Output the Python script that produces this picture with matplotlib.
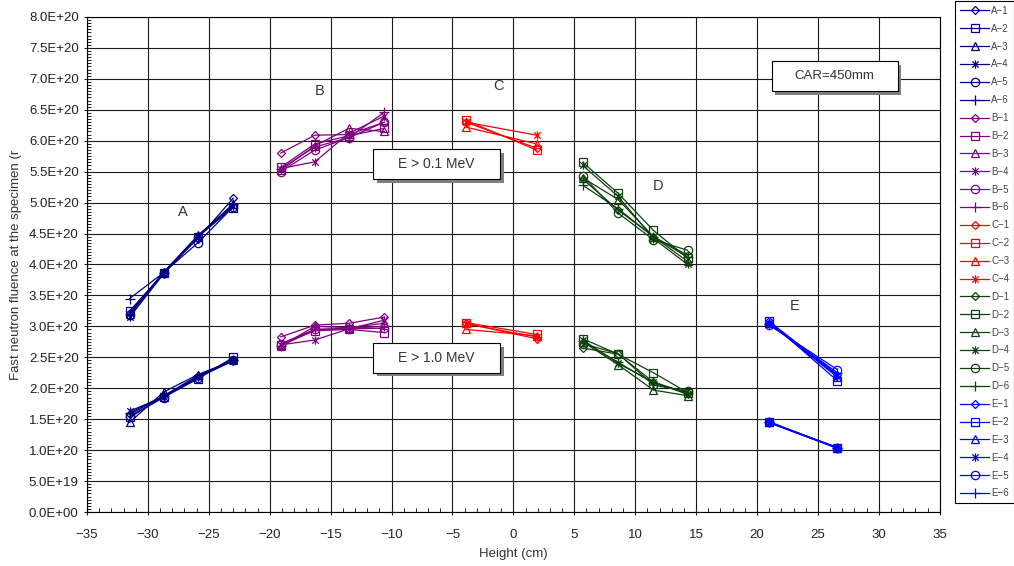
import numpy as np
import matplotlib.pyplot as plt
from matplotlib.path import Path
from matplotlib.patches import Rectangle
from matplotlib.ticker import MultipleLocator, FuncFormatter

plt.rcParams['font.family'] = ['Liberation Sans', 'DejaVu Sans']

# heights (cm) of the measuring points in each capsule group
a_x = [-31.5, -28.7, -25.9, -23.0]
b_x = [-19.1, -16.3, -13.5, -10.6]
c_x = [-3.9, 1.9]
d_x = [5.7, 8.6, 11.5, 14.3]
e_x = [21.0, 26.6]

# fluence in units of 1E+20, E > 0.1 MeV (upper) and E > 1.0 MeV (lower)
a_hi = [[3.22, 3.87, 4.42, 5.07], [3.25, 3.86, 4.45, 4.92], [3.20, 3.88, 4.47, 4.97],
        [3.15, 3.85, 4.45, 4.95], [3.18, 3.87, 4.35, 4.93], [3.45, 3.87, 4.44, 4.98]]
a_lo = [[1.58, 1.87, 2.20, 2.45], [1.53, 1.86, 2.15, 2.50], [1.45, 1.94, 2.22, 2.45],
        [1.63, 1.86, 2.18, 2.44], [1.55, 1.85, 2.17, 2.45], [1.60, 1.88, 2.20, 2.46]]
b_hi = [[5.80, 6.09, 6.10, 6.30], [5.57, 5.95, 6.08, 6.20], [5.52, 5.92, 6.20, 6.15],
        [5.55, 5.66, 6.12, 6.40], [5.50, 5.85, 6.05, 6.30], [5.55, 5.90, 6.05, 6.46]]
b_lo = [[2.83, 3.02, 3.05, 3.15], [2.70, 2.93, 2.95, 2.90], [2.68, 3.00, 2.98, 3.05],
        [2.70, 2.78, 2.96, 3.10], [2.72, 2.95, 2.96, 2.97], [2.68, 2.95, 2.97, 3.00]]
c_hi = [[6.30, 5.88], [6.33, 5.85], [6.22, 5.95], [6.30, 6.09]]
c_lo = [[3.05, 2.80], [3.06, 2.87], [2.95, 2.85], [3.04, 2.83]]
d_hi = [[5.38, 4.88, 4.45, 4.15], [5.65, 5.15, 4.55, 4.10], [5.40, 5.05, 4.45, 4.05],
        [5.60, 5.10, 4.42, 4.00], [5.43, 4.83, 4.40, 4.23], [5.28, 4.90, 4.45, 4.12]]
d_lo = [[2.65, 2.55, 2.10, 1.92], [2.80, 2.55, 2.25, 1.93], [2.75, 2.38, 1.97, 1.88],
        [2.78, 2.40, 2.10, 1.90], [2.72, 2.56, 2.05, 1.95], [2.76, 2.42, 2.08, 1.93]]
e_hi = [[3.08, 2.22], [3.08, 2.12], [3.05, 2.18], [3.06, 2.20], [3.02, 2.30], [3.04, 2.25]]
e_lo = [[1.45, 1.04], [1.46, 1.03], [1.45, 1.04], [1.44, 1.03], [1.45, 1.04], [1.45, 1.03]]

groups = ["A", "B", "C", "D", "E"]
colors = ["#000080", "#800080", "#ff0000", "#0f400f", "#0000ff"]

# excel-like asterisk: an x with a vertical bar
star = Path([(-1, -1), (1, 1), (-1, 1), (1, -1), (0, -1.3), (0, 1.3)],
            [Path.MOVETO, Path.LINETO, Path.MOVETO, Path.LINETO, Path.MOVETO, Path.LINETO])
markers = ["D", "s", "^", star, "o", "+"]
sizes = [4.5, 6, 6, 6, 6, 7]

fig = plt.figure(figsize=(10.14, 5.66), dpi=100)
ax = fig.add_axes([0.0858, 0.0954, 0.841, 0.8746])

data = [(a_x, a_hi, a_lo), (b_x, b_hi, b_lo), (c_x, c_hi, c_lo), (d_x, d_hi, d_lo), (e_x, e_hi, e_lo)]
handles = []
for g, col, (xs, hi, lo) in zip(groups, colors, data):
    for i in range(len(hi)):
        kw = dict(color=col, lw=0.9, marker=markers[i], ms=sizes[i], mfc="none", mew=0.9)
        h, = ax.plot(xs, np.array(hi[i]) * 1e20, label=f"{g}\u2212{i+1}", **kw)
        ax.plot(xs, np.array(lo[i]) * 1e20, **kw)
        handles.append(h)

ax.set_xlim(-35, 35)
ax.set_ylim(0, 8e20)
ax.xaxis.set_major_locator(MultipleLocator(5))
ax.xaxis.set_minor_locator(MultipleLocator(1))
ax.yaxis.set_major_locator(MultipleLocator(0.5e20))
ax.yaxis.set_minor_locator(MultipleLocator(0.05e20))
ax.yaxis.set_major_formatter(FuncFormatter(lambda v, p: "%.1E" % v))
ax.xaxis.set_major_formatter(FuncFormatter(lambda v, p: ("%d" % v).replace("-", "\u2212")))
ax.tick_params(which="major", direction="inout", length=5, width=0.8, labelsize=9.5, colors="#222222")
ax.tick_params(axis="x", which="major", pad=10)
ax.tick_params(which="minor", direction="in", length=3, width=0.6)
ax.grid(True, which="major", color="#1a1a1a", lw=0.8)
ax.set_axisbelow(True)
for s in ax.spines.values():
    s.set_linewidth(0.8)

ax.set_xlabel("Height (cm)", fontsize=9.5, color="#333333", labelpad=5)
ax.set_ylabel("Fast neutron fluence at the specimen (r", fontsize=9.5, color="#333333", labelpad=5)

# group labels
for txt, x, y in [("A", -27.1, 4.85), ("B", -15.9, 6.8), ("C", -1.2, 6.88), ("D", 11.9, 5.27), ("E", 23.1, 3.33)]:
    ax.text(x, y * 1e20, txt, fontsize=10.5, color="#333333", ha="center", va="center")

# framed notes with shadow
for txt, x0, y0, w, h, fs in [("E > 0.1 MeV", -11.5, 5.38, 10.4, 0.48, 10),
                              ("E > 1.0 MeV", -11.5, 2.25, 10.4, 0.48, 10),
                              ("CAR=450mm", 21.2, 6.80, 10.35, 0.485, 9.5)]:
    ax.add_patch(Rectangle((x0 + 0.3, (y0 - 0.06) * 1e20), w, h * 1e20, facecolor="#808080",
                           edgecolor="none", zorder=4))
    ax.add_patch(Rectangle((x0, y0 * 1e20), w, h * 1e20, facecolor="white", edgecolor="black",
                           lw=0.8, zorder=5))
    ax.text(x0 + w / 2, (y0 + h / 2) * 1e20, txt, fontsize=fs, color="#333333",
            ha="center", va="center", zorder=6)

leg = fig.legend(handles=handles, loc="upper left", bbox_to_anchor=(0.941, 1.0),
                 fontsize=7, handlelength=3.0, handletextpad=0.2, labelspacing=0.81,
                 borderpad=0.5, borderaxespad=0.1, fancybox=False, edgecolor="black", framealpha=1)
leg.get_frame().set_linewidth(0.8)
for t in leg.get_texts():
    t.set_color("#444444")

fig.savefig("out.png", dpi=100)
